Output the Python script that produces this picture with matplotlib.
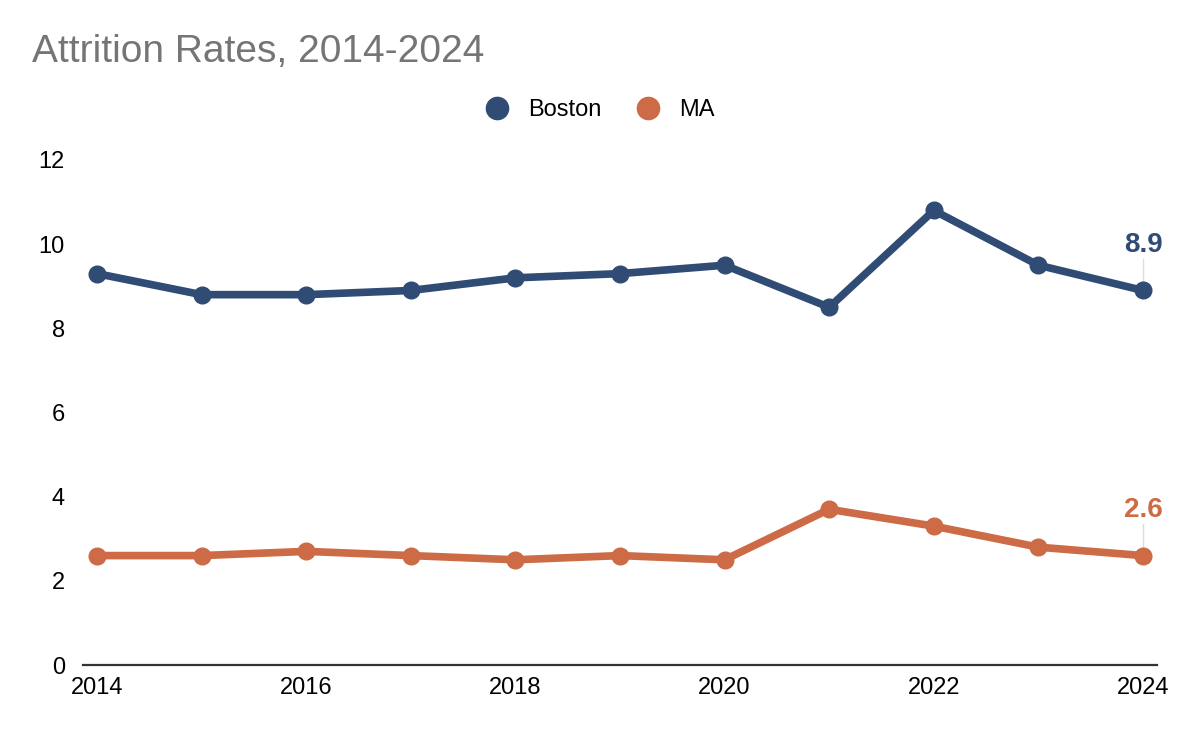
import matplotlib.pyplot as plt
from matplotlib.lines import Line2D

years = list(range(2014, 2025))
boston = [9.3, 8.8, 8.8, 8.9, 9.2, 9.3, 9.5, 8.5, 10.8, 9.5, 8.9]
ma = [2.6, 2.6, 2.7, 2.6, 2.5, 2.6, 2.5, 3.7, 3.3, 2.8, 2.6]
series_names = ["Boston", "MA"]
colors = ["#304c74", "#cc6b45"]
yticks = [0, 2, 4, 6, 8, 10, 12]
xticks = [2014, 2016, 2018, 2020, 2022, 2024]


def main():
    plt.rcParams['font.family'] = ['Liberation Sans', 'DejaVu Sans']
    fig = plt.figure(figsize=(11.88, 7.32), dpi=100)
    ax = fig.add_axes([83 / 1188, 1 - 665 / 732, (1157 - 83) / 1188, (665 - 160) / 732])

    for vals, color in zip([boston, ma], colors):
        ax.plot(years, vals, color=color, lw=5.5, marker='o', ms=12, solid_capstyle='round', zorder=3)
        # label on the last point with a thin leader line
        last = vals[-1]
        ax.plot([years[-1], years[-1]], [last, last + 0.75], color='#dddddd', lw=1, zorder=2)
        ax.annotate(f"{last:.1f}", (years[-1], last + 0.75), xytext=(0, 1), textcoords='offset points',
                    ha='center', va='bottom', fontsize=20, fontweight='bold', color=color)

    ax.set_xlim(2024 - (1143 - 83) / 104.6, 2014 + (1157 - 97) / 104.6)
    ax.set_ylim(0, 12)
    ax.set_yticks(yticks)
    ax.set_xticks(xticks)
    ax.tick_params(axis='both', length=0, labelsize=17, colors='#000000')
    ax.tick_params(axis='y', pad=13)
    ax.tick_params(axis='x', pad=9)
    for s in ['top', 'right', 'left']:
        ax.spines[s].set_visible(False)
    ax.spines['bottom'].set_color('#333333')
    ax.spines['bottom'].set_linewidth(1.6)

    handles = [Line2D([], [], ls='none', marker='o', ms=16, color=c) for c in colors]
    fig.legend(handles, series_names, loc='center', bbox_to_anchor=(594 / 1188, 1 - 110 / 732),
               ncol=2, frameon=False, fontsize=17, handletextpad=0.3, columnspacing=1.0)

    fig.text(32 / 1188, 1 - 52 / 732, "Attrition Rates, 2014-2024", fontsize=28, color='#757575',
             ha='left', va='center')

    fig.savefig("out.png", dpi=100)


if __name__ == "__main__":
    main()
